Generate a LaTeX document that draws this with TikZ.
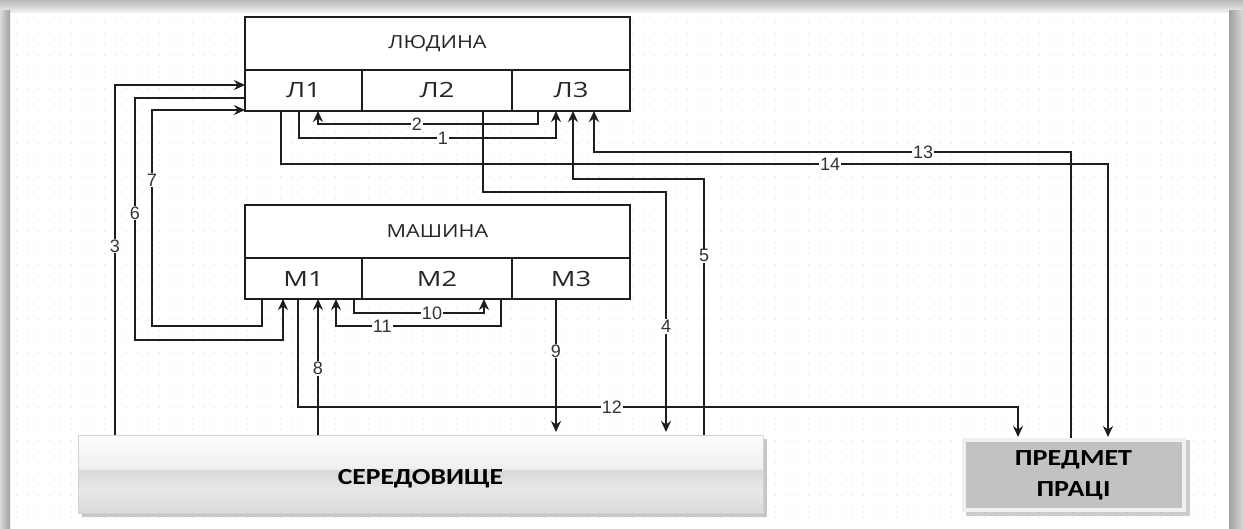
\documentclass[tikz,border=0pt]{standalone}
\usepackage{fontspec}
\setmainfont{Open Sans}
\newfontfamily\hdrfont{Open Sans}[FakeStretch=1.2]
\newfontfamily\boxfont{Open Sans}[FakeStretch=1.3]
\newfontfamily\bigfont{Carlito}[FakeStretch=1.2]
\newfontfamily\objfont{Carlito}[FakeStretch=1.22]
\newfontfamily\numfont{Liberation Sans}
\usetikzlibrary{calc,arrows.meta}
\definecolor{ln}{HTML}{1E1E1E}
\definecolor{lbl}{HTML}{333333}
\pgfdeclareverticalshading{glossy}{100bp}{color(0bp)=(gray!28); color(25bp)=(gray!28); color(40bp)=(gray!18); color(52bp)=(gray!30); color(54bp)=(gray!12); color(75bp)=(gray!2); color(100bp)=(gray!2)}
\begin{document}
\begin{tikzpicture}[x=1pt,y=-1pt,
  cell/.style={draw=ln, line width=1.6pt, fill=white, inner sep=0pt, outer sep=0pt, text=black!85},
  hdr/.style={cell, font=\hdrfont\fontsize{18}{20}\selectfont, minimum width=385pt, minimum height=53pt},
  sub/.style={cell, font=\boxfont\fontsize{21}{23}\selectfont, minimum height=41pt},
  arr/.style={draw=ln, line width=1.7pt, -{Stealth[length=11pt,width=10pt]}},
  lab/.style={fill=white, inner sep=1pt, text=lbl, font=\numfont\fontsize{18}{18}\selectfont}
]
\useasboundingbox (0,0) rectangle (1243,528);
% frame
\fill[white] (0,0) rectangle (1243,528);
\shade[top color=gray!55, bottom color=gray!12] (0,0) rectangle (1243,12);
\shade[left color=gray!30, right color=gray!75] (0,10) rectangle (10,528);
\shade[left color=gray!75, right color=gray!30] (1229,10) rectangle (1243,528);
% grid dots
\foreach \yy in {22,33,...,522} {
  \draw[gray!30, line width=1pt, dash pattern=on 1pt off 10pt] (16,\yy) -- (1226,\yy);
}
% boxes
\node[hdr] (L) at (437.5,43.5) {ЛЮДИНА};
\node[sub, minimum width=117pt] (L1) at (303.5,90.5) {Л1};
\node[sub, minimum width=150pt] (L2) at (437,90.5) {Л2};
\node[sub, minimum width=118pt] (L3) at (571,90.5) {Л3};
\node[hdr] (M) at (437.5,231.5) {МАШИНА};
\node[sub, minimum width=117pt] (M1) at (303.5,278.5) {М1};
\node[sub, minimum width=150pt] (M2) at (437,278.5) {М2};
\node[sub, minimum width=118pt] (M3) at (571,278.5) {М3};
% environment
\fill[gray!45] (82,439) rectangle (767,517);
\node[draw=gray!35, line width=0.8pt, shading=glossy, minimum width=685pt, minimum height=78pt, inner sep=0pt, outer sep=0pt,
  font=\bigfont\bfseries\fontsize{23}{26}\selectfont] (S) at (420.5,474) {\raisebox{-5pt}[\height][\depth]{СЕРЕДОВИЩЕ}};
% object of labour
\fill[gray!40] (966,440) rectangle (1190,516);
\node[draw=gray!12, line width=4pt, fill=gray!48, minimum width=220pt, minimum height=70pt, inner sep=0pt, outer sep=2pt,
  align=center, font=\objfont\bfseries\fontsize{23}{31}\selectfont] (P) at (1073.5,475) {ПРЕДМЕТ\\ПРАЦІ};
% connectors
\draw[arr] ($(L1.south west)+(54,0)$) -- ++(0,27) -- node[lab,pos=.56]{1} ++(257,0) -- ($(L3.south)+(-15,0)$);
\draw[arr] ($(L3.south)+(-33,0)$) -- ++(0,13) -- node[lab,pos=.55]{2} ++(-220,0) -- ($(L1.south)+(14.5,0)$);
\draw[arr] ($(S.north west)+(37,0)$) -- node[lab,pos=.54]{3} ++(0,-350) -- ($(L1.west)+(0,-5.5)$);
\draw[arr] ($(L2.south)+(46,0)$) -- ++(0,81) -- ++(183,0) -- node[lab,pos=.56]{4} ($(S.north west)+(588,-3)$);
\draw[arr] ($(S.north west)+(626,0)$) -- node[lab,pos=.7]{5} ++(0,-256) -- ++(-131,0) -- ($(L3.south)+(2,0)$);
\draw[arr] ($(L1.west)+(0,7.5)$) -- ++(-110,0) -- node[lab,pos=.475]{6} ++(0,242) -- ++(148,0) -- ($(M1.south west)+(38,0)$);
\draw[arr] ($(M1.south west)+(17,0)$) -- ++(0,27) -- ++(-110,0) -- node[lab,pos=.676]{7} ++(0,-216) -- ($(L1.south west)+(0,-1)$);
\draw[arr] ($(S.north west)+(240,0)$) -- node[lab,pos=.49]{8} ($(M1.south)+(14.5,0)$);
\draw[arr] ($(M3.south)+(-15,0)$) -- node[lab,pos=.39]{9} ($(S.north west)+(478,-3)$);
\draw[arr] ($(M1.south)+(50.5,0)$) -- ++(0,14) -- node[lab,pos=.6]{10} ++(130,0) -- ($(M2.south)+(47,0)$);
\draw[arr] ($(M2.south)+(64,0)$) -- ++(0,27) -- node[lab,pos=.72]{11} ++(-165,0) -- ($(M1.south)+(32.5,0)$);
\draw[arr] ($(M1.south west)+(53,0)$) -- ++(0,108) -- node[lab,pos=.436]{12} ++(720,0) -- ($(P.north west)+(56.5,-1)$);
\draw[arr] ($(P.north west)+(109.5,0)$) -- ++(0,-286) -- node[lab,pos=.31]{13} ++(-477,0) -- ($(L3.south)+(23,0)$);
\draw[arr] ($(L1.south west)+(36,0)$) -- ++(0,53) -- node[lab,pos=.664]{14} ++(827,0) -- ($(P.north west)+(146.5,-1)$);
\end{tikzpicture}
\end{document}
